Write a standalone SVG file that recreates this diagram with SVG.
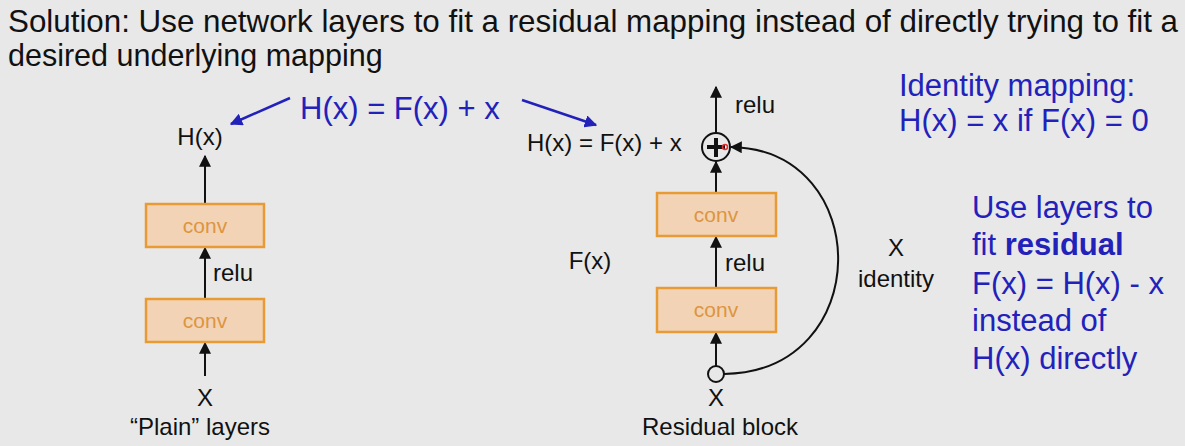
<svg xmlns="http://www.w3.org/2000/svg" width="1185" height="446" viewBox="0 0 1185 446">
<defs>
<style>
text{font-family:"Liberation Sans",Arial,sans-serif;}
.t{font-size:30.5px;fill:#111;}
.lbl{font-size:24px;fill:#111;}
.blue{font-size:31px;fill:#2222bb;}
.conv{fill:#f2d3b5;stroke:#e89a35;stroke-width:2.5;}
.ct{font-size:21px;fill:#dd9540;text-anchor:middle;}
.ln{stroke:#111;stroke-width:2;fill:none;}
.bl{stroke:#2222bb;stroke-width:2.5;fill:none;}
</style>
<marker id="ah" viewBox="0 0 10 10" refX="9" refY="5" markerWidth="6" markerHeight="6" orient="auto" markerUnits="strokeWidth"><path d="M0,0 L10,5 L0,10 z" fill="#111"/></marker>
<marker id="bh" viewBox="0 0 10 10" refX="9" refY="5" markerWidth="5" markerHeight="5" orient="auto" markerUnits="strokeWidth"><path d="M0,0 L10,5 L0,10 z" fill="#2222bb"/></marker>
</defs>
<rect width="1185" height="446" fill="#e8e8e8"/>
<g id="title">
<text class="t" x="8" y="32" textLength="1170" lengthAdjust="spacingAndGlyphs">Solution: Use network layers to fit a residual mapping instead of directly trying to fit a</text>
<text class="t" x="8" y="66">desired underlying mapping</text>
</g>
<g id="connectors">
<line class="ln" x1="205" y1="203" x2="205" y2="156" marker-end="url(#ah)"/>
<line class="ln" x1="205" y1="299" x2="205" y2="248" marker-end="url(#ah)"/>
<line class="ln" x1="205" y1="376" x2="205" y2="343" marker-end="url(#ah)"/>
<line class="ln" x1="716" y1="133" x2="716" y2="87" marker-end="url(#ah)"/>
<line class="ln" x1="716" y1="193" x2="716" y2="162" marker-end="url(#ah)"/>
<line class="ln" x1="716" y1="288" x2="716" y2="237" marker-end="url(#ah)"/>
<line class="ln" x1="716" y1="366" x2="716" y2="333" marker-end="url(#ah)"/>
<path class="ln" d="M724,374 C875,372 875,150 731,147" marker-end="url(#ah)"/>
<line class="bl" x1="290" y1="98" x2="231" y2="124" marker-end="url(#bh)"/>
<line class="bl" x1="522" y1="100" x2="596" y2="125" marker-end="url(#bh)"/>
</g>
<g id="plain-conv2"><rect class="conv" x="146" y="204" width="118" height="43"/><text class="ct" x="205" y="233">conv</text></g>
<g id="plain-conv1"><rect class="conv" x="146" y="299" width="118" height="43"/><text class="ct" x="205" y="328">conv</text></g>
<g id="plain-labels">
<text class="lbl" x="200" y="145" text-anchor="middle">H(x)</text>
<text class="lbl" x="213" y="281">relu</text>
<text class="lbl" x="205" y="406" text-anchor="middle">X</text>
<text class="lbl" x="200" y="435" text-anchor="middle">“Plain” layers</text>
</g>
<g id="res-conv2"><rect class="conv" x="657" y="193" width="119" height="43"/><text class="ct" x="716" y="222">conv</text></g>
<g id="res-conv1"><rect class="conv" x="657" y="288" width="119" height="44"/><text class="ct" x="716" y="317">conv</text></g>
<g id="plus">
<circle cx="716" cy="147" r="14" fill="none" stroke="#111" stroke-width="2"/>
<line x1="707" y1="147" x2="725" y2="147" stroke="#111" stroke-width="4"/>
<line x1="716" y1="138" x2="716" y2="157" stroke="#111" stroke-width="4"/>
<circle cx="725" cy="147" r="2.5" fill="none" stroke="#e03030" stroke-width="1.5"/>
</g>
<g id="input-node"><circle cx="716" cy="374" r="8" fill="#e8e8e8" stroke="#111" stroke-width="2"/></g>
<g id="res-labels">
<text class="lbl" x="735" y="113">relu</text>
<text class="lbl" x="527" y="151">H(x) = F(x) + x</text>
<text class="lbl" x="725" y="271">relu</text>
<text class="lbl" x="590" y="269" text-anchor="middle">F(x)</text>
<text class="lbl" x="896" y="256" text-anchor="middle">X</text>
<text class="lbl" x="896" y="287" text-anchor="middle">identity</text>
<text class="lbl" x="716" y="406" text-anchor="middle">X</text>
<text class="lbl" x="720" y="435" text-anchor="middle">Residual block</text>
</g>
<g id="blue-text">
<text class="blue" x="300" y="119">H(x) = F(x) + x</text>
<text class="blue" x="899" y="96">Identity mapping:</text>
<text class="blue" x="899" y="131">H(x) = x if F(x) = 0</text>
<text class="blue" x="972" y="218">Use layers to</text>
<text class="blue" x="972" y="255">fit <tspan font-weight="bold">residual</tspan></text>
<text class="blue" x="972" y="294">F(x) = H(x) - x</text>
<text class="blue" x="972" y="331">instead of</text>
<text class="blue" x="972" y="369">H(x) directly</text>
</g>
</svg>
